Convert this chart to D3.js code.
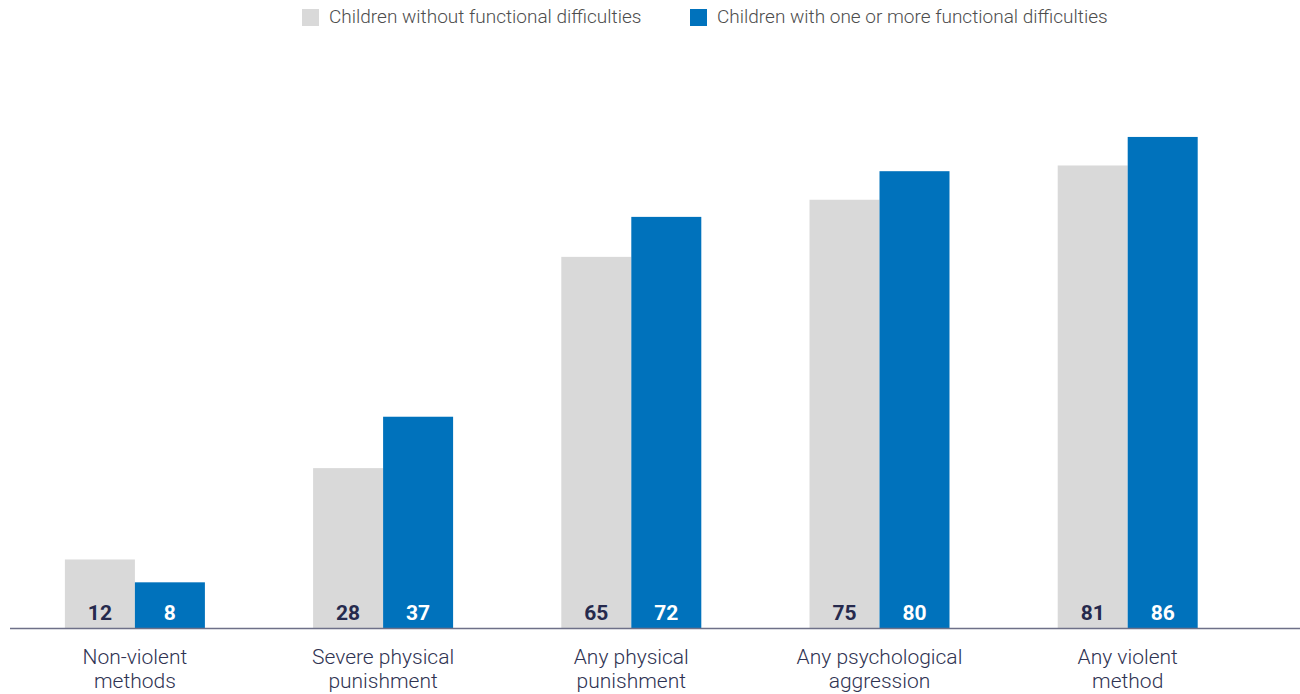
<!DOCTYPE html>
<html><head><meta charset="utf-8">
<script src="https://cdn.jsdelivr.net/npm/d3@7"></script>
<style>body{margin:0;background:#fff}svg{display:block;font-family:Roboto,"Liberation Sans",Arial,sans-serif}</style>
</head><body><svg id="c" width="1300" height="694"></svg>
<script>
const categories = [["Non-violent","methods"],["Severe physical","punishment"],["Any physical","punishment"],["Any psychological","aggression"],["Any violent","method"]];
const seriesNames = ["Children without functional difficulties","Children with one or more functional difficulties"];
const without = [12, 28, 65, 75, 81];
const withDiff = [8, 37, 72, 80, 86];
const colors = ["#d9d9d9","#0072bc"];
const labelColors = ["#262a4d","#ffffff"];

const svg = d3.select("#c");
const catKeys = categories.map(c=>c.join(" "));
const x0 = d3.scaleBand().domain(catKeys).range([10.8,1251.8]);
const x1 = d3.scaleBand().domain([0,1]).range([x0.bandwidth()/2-70, x0.bandwidth()/2+70]);
const y = d3.scaleLinear().domain([0,100]).range([628,57]);
const data = [without, withDiff];

catKeys.forEach((k,i)=>{
  const g = svg.append("g").attr("transform",`translate(${x0(k)},0)`);
  [0,1].forEach(s=>{
    const v = data[s][i];
    g.append("rect").attr("x",x1(s)).attr("width",x1.bandwidth())
      .attr("y",y(v)).attr("height",y(0)-y(v)).attr("fill",colors[s]);
    g.append("text").attr("x",x1(s)+x1.bandwidth()/2).attr("y",620)
      .attr("text-anchor","middle").attr("font-size",21).attr("font-weight","bold")
      .attr("fill",labelColors[s]).text(v);
  });
  const t = g.append("text").attr("text-anchor","middle").attr("font-size",21)
    .attr("font-weight",300).attr("fill","#2f3352");
  categories[i].forEach((ln,j)=>{
    t.append("tspan").attr("x",x0.bandwidth()/2).attr("y",664+j*24).text(ln);
  });
});

svg.append("line").attr("x1",10).attr("x2",1300).attr("y1",628.5).attr("y2",628.5)
  .attr("stroke","#6e7088").attr("stroke-width",1.5);

const legX = [302, 690];
seriesNames.forEach((n,i)=>{
  svg.append("rect").attr("x",legX[i]).attr("y",9).attr("width",17).attr("height",17).attr("fill",colors[i]);
  svg.append("text").attr("x",legX[i]+27).attr("y",23).attr("font-size",19)
    .attr("font-weight",300).attr("fill","#4d4d4d").text(n);
});
</script></body></html>
